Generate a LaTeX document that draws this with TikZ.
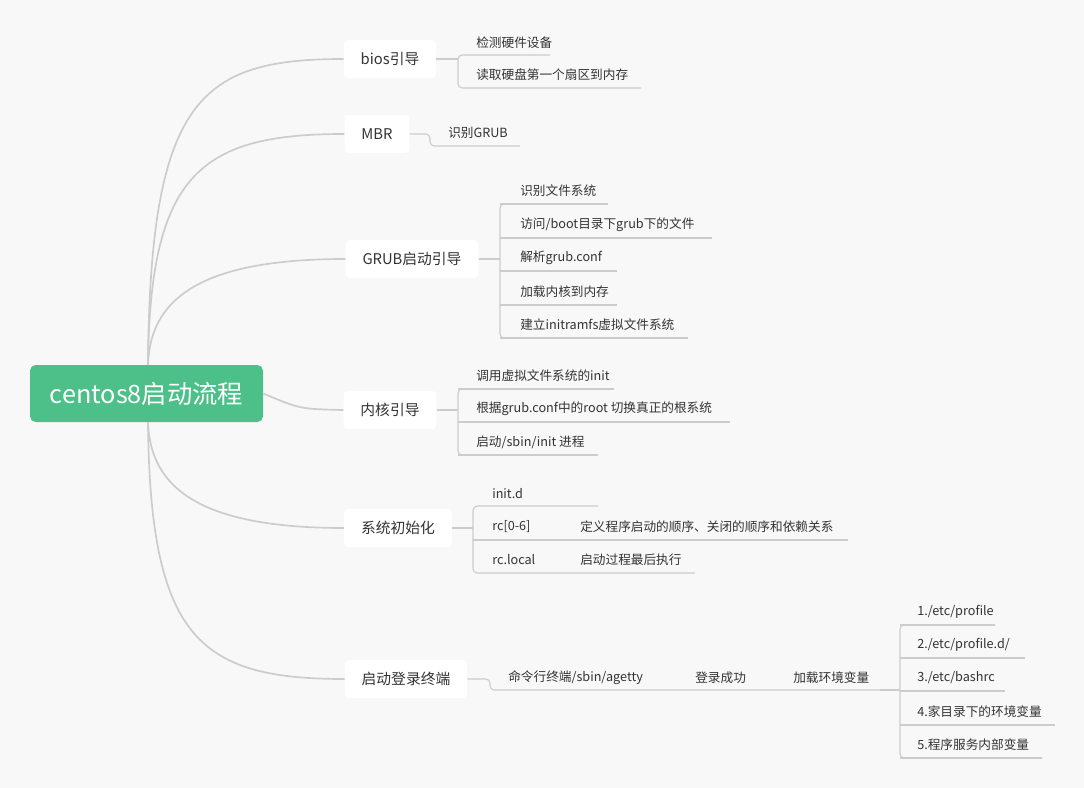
\documentclass[tikz,border=0pt]{standalone}
\usepackage{fontspec}
\setmainfont{Noto Sans CJK SC}
\usetikzlibrary{positioning}
\definecolor{bggray}{RGB}{248,248,248}
\definecolor{linegray}{RGB}{204,204,204}
\definecolor{txtgray}{RGB}{51,51,51}
\definecolor{rootgreen}{RGB}{76,192,136}

\begin{document}
\begin{tikzpicture}[x=0.025cm,y=-0.025cm,
rootnode/.style={rectangle, rounded corners=4pt, fill=rootgreen, text=white,
    minimum width=233*0.025cm, minimum height=57*0.025cm, font=\fontsize{18}{20}\selectfont},
topicnode/.style={rectangle, rounded corners=3pt, fill=white, text=txtgray,
    minimum height=38*0.025cm, inner xsep=12pt, font=\fontsize{10.5}{12}\selectfont},
leafnode/.style={anchor=west, text=txtgray, inner sep=0pt, font=\fontsize{9}{11}\selectfont},
curve/.style={draw=linegray, line width=1.2pt},
branch/.style={draw=linegray, line width=0.8pt, rounded corners=3pt},
]
\fill[bggray] (0,0) rectangle (1084,788);

% root and topics
\node[rootnode] (root) at (146.5,393.5) {centos8启动流程};
\node[topicnode] (bios) at (390,59) {bios引导};
\node[topicnode] (mbr) at (377,134) {MBR};
\node[topicnode] (grub) at (412,259) {GRUB启动引导};
\node[topicnode] (kern) at (390,410) {内核引导};
\node[topicnode] (sysinit) at (398,528) {系统初始化};
\node[topicnode] (login) at (406,679) {启动登录终端};

\coordinate (rtop) at (148,365);
\coordinate (rbot) at (148,422);
\foreach \t/\y in {bios/59,mbr/134,grub/259}
  \draw[curve] (rtop) .. controls (150,\y+40) and (200,\y) .. (\t.west);
\foreach \t/\y in {sysinit/528,login/679}
  \draw[curve] (rbot) .. controls (150,\y-40) and (200,\y) .. (\t.west);
\draw[curve] (root.east) .. controls (300,409) .. (kern.west);

% bios
\draw[branch] (bios.east) -- (458,59);
\draw[branch] (550,55) -- (458,55) -- (458,88) -- (641,88);
\node[leafnode] (b1) at (476,43) {检测硬件设备};
\node[leafnode] (b2) at (476,75) {读取硬盘第一个扇区到内存};

% mbr
\draw[branch] (mbr.east) -- (430,134) -- (430,146) -- (520,146);
\node[leafnode] (m1) at (448,133) {识别GRUB};

% grub
\draw[branch] (grub.east) -- (500,259);
\draw[branch] (608,204) -- (500,204) -- (500,338) -- (688,338);
\foreach \y/\e/\txt [count=\i] in {191/608/{识别文件系统}, 225/712/{访问/boot目录下grub下的文件},
    258/617/{解析grub.conf}, 292/617/{加载内核到内存}, 325/688/{建立initramfs虚拟文件系统}}{
  \node[leafnode] (g\i) at (520,\y) {\txt};
  \draw[branch] (500,\y+13) -- (\e,\y+13);
}

% kernel
\draw[branch] (kern.east) -- (458,410);
\draw[branch] (614,389) -- (458,389) -- (458,455) -- (598,455);
\foreach \y/\e/\txt [count=\i] in {376/614/{调用虚拟文件系统的init},
    409/730/{根据grub.conf中的root 切换真正的根系统}, 442/598/{启动/sbin/init 进程}}{
  \node[leafnode] (k\i) at (476,\y) {\txt};
  \draw[branch] (458,\y+13) -- (\e,\y+13);
}

% sysinit
\draw[branch] (sysinit.east) -- (473,528);
\draw[branch] (598,506) -- (473,506) -- (473,573) -- (695,573);
\draw[branch] (473,540) -- (848,540);
\node[leafnode] (s1) at (492,494) {init.d};
\node[leafnode] (s2) at (492,527) {rc[0-6]};
\node[leafnode] (s3) at (492,560) {rc.local};
\node[leafnode] (s2a) at (580,527) {定义程序启动的顺序、关闭的顺序和依赖关系};
\node[leafnode] (s3a) at (580,560) {启动过程最后执行};

% login
\draw[branch] (login.east) -- (490,679) -- (490,690) -- (880,690);
\node[leafnode] (l1) at (508,678) {命令行终端/sbin/agetty};
\node[leafnode] (l2) at (695,678) {登录成功};
\node[leafnode] (l3) at (793,678) {加载环境变量};
\draw[branch] (880,690) -- (900,690);
\draw[branch] (995,625) -- (900,625) -- (900,758) -- (1042,758);
\foreach \y/\e/\txt [count=\i] in {612/995/{1./etc/profile}, 645/1025/{2./etc/profile.d/},
    678/1005/{3./etc/bashrc}, 712/1055/{4.家目录下的环境变量}, 745/1042/{5.程序服务内部变量}}{
  \node[leafnode] (e\i) at (917,\y) {\txt};
  \draw[branch] (900,\y+13) -- (\e,\y+13);
}
\end{tikzpicture}
\end{document}
